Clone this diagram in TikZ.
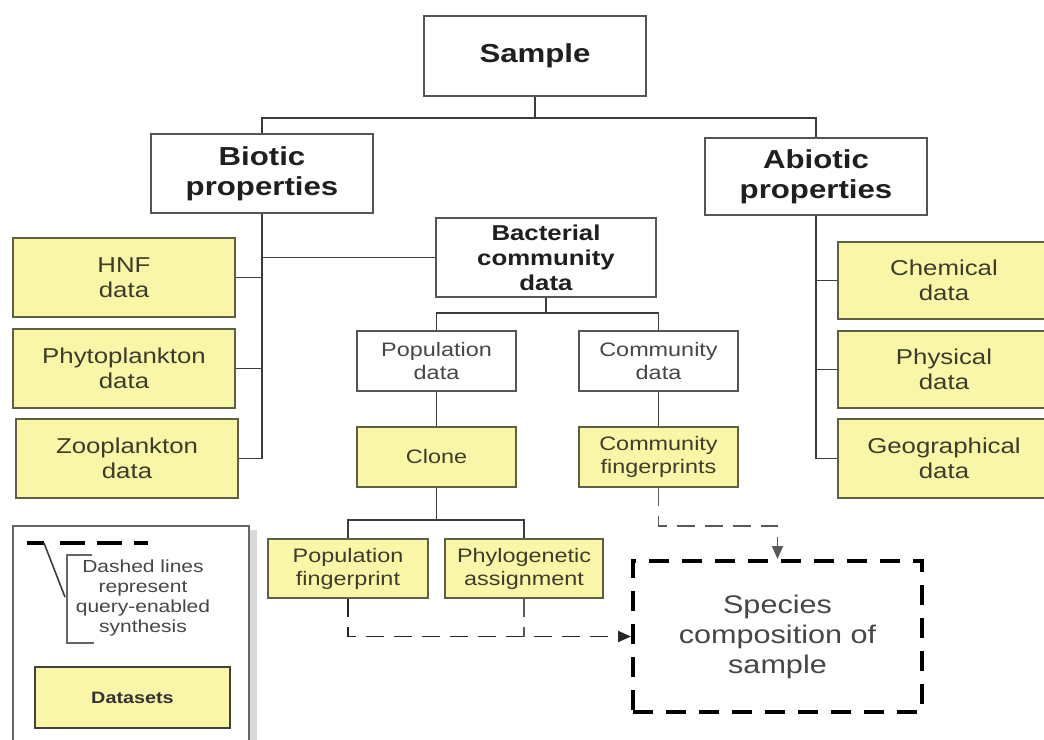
\documentclass[tikz,border=0pt]{standalone}
\usepackage{fontspec}
\setmainfont{Liberation Sans}[FakeStretch=1.2]
\usetikzlibrary{arrows.meta}
\definecolor{yel}{RGB}{250,246,168}
\definecolor{ybord}{RGB}{95,95,70}
\definecolor{ytxt}{RGB}{60,60,42}
\definecolor{bord}{RGB}{85,85,85}
\definecolor{lgray}{RGB}{60,60,60}
\definecolor{gtxt}{RGB}{70,70,70}
\begin{document}
\begin{tikzpicture}[x=1pt,y=-1pt,
  wbox/.style={draw=bord, line width=1.8pt, fill=white, inner sep=0pt, align=center, text=black!88},
  ybox/.style={draw=ybord, line width=1.8pt, fill=yel, inner sep=0pt, align=center, text=ytxt},
  bigtxt/.style={font=\fontsize{26}{30}\selectfont\bfseries},
  medtxt/.style={font=\fontsize{21.5}{25}\selectfont\bfseries},
  ytxtf/.style={font=\fontsize{21.5}{25}\selectfont},
  smtxt/.style={font=\fontsize{19.5}{23}\selectfont},
  conn/.style={draw=lgray, line width=1.6pt},
  dconn/.style={draw=black!85, line width=1.9pt, dash pattern=on 18pt off 10pt},
  tip/.style={-{Triangle[length=13pt,width=11pt]}}
]
\useasboundingbox (0,0) rectangle (1044,739);
\clip (0,0) rectangle (1044,739);
\fill[white] (0,0) rectangle (1044,739);

% top level
\node[wbox, bigtxt, minimum width=222pt, minimum height=80pt] (sample) at (535,56) {Sample};
\node[wbox, bigtxt, minimum width=222pt, minimum height=79pt] (biotic) at (262,173.5) {Biotic\\properties};
\node[wbox, bigtxt, minimum width=222pt, minimum height=77pt] (abiotic) at (816,176.5) {Abiotic\\properties};

% biotic datasets
\node[ybox, ytxtf, minimum width=222pt, minimum height=79pt] (hnf) at (124,277.5) {HNF\\data};
\node[ybox, ytxtf, minimum width=222pt, minimum height=79pt] (phyto) at (124,368.5) {Phytoplankton\\data};
\node[ybox, ytxtf, minimum width=222pt, minimum height=79pt] (zoo) at (127,458.5) {Zooplankton\\data};

% abiotic datasets
\node[ybox, ytxtf, minimum width=212pt, minimum height=77pt] (chem) at (944,280.5) {Chemical\\data};
\node[ybox, ytxtf, minimum width=212pt, minimum height=77pt] (phys) at (944,369.5) {Physical\\data};
\node[ybox, ytxtf, minimum width=212pt, minimum height=79pt] (geo) at (944,458.5) {Geographical\\data};

% bacterial
\node[wbox, medtxt, minimum width=220pt, minimum height=79pt] (bact) at (546,257.5) {Bacterial\\community\\data};
\node[wbox, smtxt, text=gtxt, minimum width=159pt, minimum height=60pt] (popd) at (436.5,361) {Population\\data};
\node[wbox, smtxt, text=gtxt, minimum width=159pt, minimum height=60pt] (commd) at (658.5,361) {Community\\data};
\node[ybox, smtxt, minimum width=159pt, minimum height=60pt] (clone) at (436.5,457) {Clone};
\node[ybox, smtxt, minimum width=159pt, minimum height=60pt] (commfp) at (658.5,457) {Community\\fingerprints};
\node[ybox, smtxt, minimum width=160pt, minimum height=59pt] (popfp) at (348,568.5) {Population\\fingerprint};
\node[ybox, smtxt, minimum width=158pt, minimum height=59pt] (phylo) at (524,568.5) {Phylogenetic\\assignment};

% species
\node[draw=black, line width=4pt, dash pattern=on 20pt off 13pt, fill=white, minimum width=289pt, minimum height=151pt, inner sep=0pt, align=center, text=gtxt, font=\fontsize{25.5}{30}\selectfont] (species) at (777.5,636.5) {Species\\composition of\\sample};

% connectors
\coordinate (bus1) at (535,118);
\draw[conn] (sample.south) -- (bus1);
\draw[conn] (biotic.north) |- (bus1) -| (abiotic.north);

\draw[conn] (biotic.south) -- (biotic.south |- zoo.east);
\draw[conn] (hnf.east) -- (hnf.east -| biotic.south);
\draw[conn] (phyto.east) -- (phyto.east -| biotic.south);
\draw[conn] (zoo.east) -- (zoo.east -| biotic.south);
\draw[conn] (bact.west) -- (bact.west -| biotic.south);

\draw[conn] (abiotic.south) -- (abiotic.south |- geo.west);
\draw[conn] (chem.west) -- (chem.west -| abiotic.south);
\draw[conn] (phys.west) -- (phys.west -| abiotic.south);
\draw[conn] (geo.west) -- (geo.west -| abiotic.south);

\coordinate (bus2) at (546,313);
\draw[conn] (bact.south) -- (bus2);
\draw[conn] (popd.north) |- (bus2) -| (commd.north);
\draw[conn] (popd.south) -- (clone.north);
\draw[conn] (commd.south) -- (commfp.north);

\coordinate (bus3) at (436.5,520);
\draw[conn] (clone.south) -- (bus3);
\draw[conn] (popfp.north) |- (bus3) -| (phylo.north);

% dashed synthesis
\draw[dconn, tip] (popfp.south) |- (species.west);
\draw[dconn, draw=black!65] (phylo.south) -- (phylo.south |- species.west);
\draw[dconn, draw=black!65, tip] (commfp.south) -- ++(0,38) -| (species.north);

% legend
\fill[black!15] (249,530) rectangle (257,760);
\node[draw=black!60, line width=1.8pt, fill=white, minimum width=236pt, minimum height=234pt, inner sep=0pt] (legend) at (131,643) {};
\coordinate (ls) at (27,543);
\coordinate (lm) at (44,543);
\coordinate (ld) at (60,543);
\coordinate (le) at (148,543);
\draw[black, line width=4pt] (ls) -- (lm);
\draw[black, line width=4pt, dash pattern=on 25pt off 12pt] (ld) -- (le);
\coordinate (lb) at (65,597);
\draw[lgray, line width=1.6pt] (lm) -- (lb);
\draw[black!60, line width=1.6pt] (92,555) -- (67,555) -- (67,643) -- (94,643);
\node[align=center, text=gtxt, font=\fontsize{17.5}{20}\selectfont] (ltxt) at (143,598) {Dashed lines\\represent\\query-enabled\\synthesis};
\node[ybox, draw=black!75, font=\fontsize{16.5}{20}\selectfont\bfseries, text=black!80, minimum width=195pt, minimum height=61pt] (datasets) at (132.5,697.5) {Datasets};
\end{tikzpicture}
\end{document}
